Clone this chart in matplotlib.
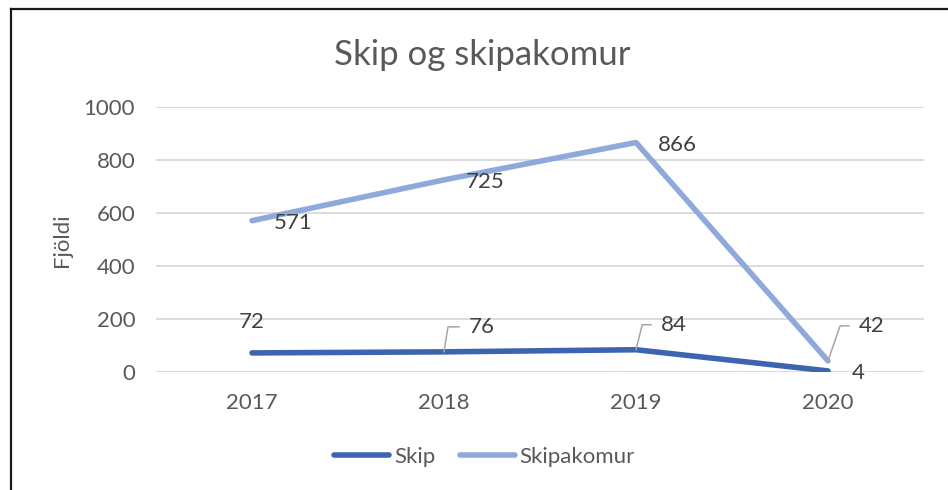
import matplotlib
matplotlib.use('Agg')
from matplotlib import pyplot as plt
from matplotlib.lines import Line2D

plt.rcParams['font.family'] = ['Lato', 'DejaVu Sans']

# gögn
years = ['2017', '2018', '2019', '2020']
skip = [72, 76, 84, 4]
skipakomur = [571, 725, 866, 42]
y_ticks = [0, 200, 400, 600, 800, 1000]

skip_color = '#3D64AE'
komur_color = '#8FA9DB'
grid_color = '#D9D9D9'
tick_color = '#595959'
label_color = '#404040'
leader_color = '#A6A6A6'
fs = 16

fig = plt.figure(figsize=(9.48, 4.90), dpi=100)
ax = fig.add_axes([156 / 948, 1 - 372 / 490, 768 / 948, 265 / 490])

x = list(range(len(years)))
ax.plot(x, skip, color=skip_color, linewidth=4.0, label='Skip',
        solid_capstyle='round', solid_joinstyle='round', zorder=3)
ax.plot(x, skipakomur, color=komur_color, linewidth=4.0, label='Skipakomur',
        solid_capstyle='round', solid_joinstyle='round', zorder=3)

ax.set_xlim(-0.5, 3.5)
ax.set_ylim(0, 1000)
ax.set_xticks(x)
ax.set_xticklabels(years)
ax.set_yticks(y_ticks)
ax.grid(axis='y', color=grid_color, linewidth=1.3)
ax.grid(axis='x', visible=False)
ax.set_axisbelow(True)
for s in ax.spines.values():
    s.set_visible(False)
ax.tick_params(axis='both', length=0, labelsize=fs, labelcolor=tick_color, pad=15)

# gagnamerki fyrir Skipakomur (hægra megin við punkt)
for i, v in enumerate(skipakomur[:3]):
    ax.annotate(str(v), (i, v), xytext=(22, -2), textcoords='offset pixels',
                ha='left', va='center', fontsize=fs, color=label_color, zorder=4)

# 42 með leiðarlínu
ax.annotate(str(skipakomur[3]), (3, skipakomur[3]), xytext=(31, 35),
            textcoords='offset pixels', ha='left', va='center', fontsize=fs,
            color=label_color, zorder=4,
            arrowprops=dict(arrowstyle='-', color=leader_color, lw=1.1,
                            relpos=(0, 0.5), shrinkA=5, shrinkB=0,
                            connectionstyle='angle,angleA=0,angleB=71,rad=0'))

# gagnamerki fyrir Skip
ax.annotate(str(skip[0]), (0, skip[0]), xytext=(0, 31), textcoords='offset pixels',
            ha='center', va='center', fontsize=fs, color=label_color, zorder=4)
for i, ang in [(1, 81), (2, 76)]:
    ax.annotate(str(skip[i]), (i, skip[i]), xytext=(25, 25),
                textcoords='offset pixels', ha='left', va='center', fontsize=fs,
                color=label_color, zorder=4,
                arrowprops=dict(arrowstyle='-', color=leader_color, lw=1.1,
                                relpos=(0, 0.5), shrinkA=5, shrinkB=0,
                                connectionstyle='angle,angleA=0,angleB=%d,rad=0' % ang))
ax.annotate(str(skip[3]), (3, skip[3]), xytext=(24, -2), textcoords='offset pixels',
            ha='left', va='center', fontsize=fs, color=label_color, zorder=4)

fig.text(482 / 948, 1 - 55 / 490, 'Skip og skipakomur', ha='center', va='center',
         fontsize=25, color=tick_color)
fig.text(62 / 948, 1 - 240 / 490, 'Fjöldi', rotation=90, ha='center', va='center',
         fontsize=fs, color=tick_color)

leg = fig.legend(loc='center', bbox_to_anchor=(0.511, 1 - 457 / 490), ncol=2,
                 frameon=False, fontsize=fs, handlelength=2.5, handletextpad=0.2,
                 columnspacing=1.1)
for t in leg.get_texts():
    t.set_color(tick_color)

# rammi
fig.add_artist(Line2D([10.5 / 948, 10.5 / 948], [0, 1 - 9 / 490],
                      transform=fig.transFigure, color='#1a1a1a', lw=1.6))
fig.add_artist(Line2D([10.5 / 948, 1], [1 - 9 / 490, 1 - 9 / 490],
                      transform=fig.transFigure, color='#1a1a1a', lw=1.6))

fig.savefig('out.png', dpi=100)
